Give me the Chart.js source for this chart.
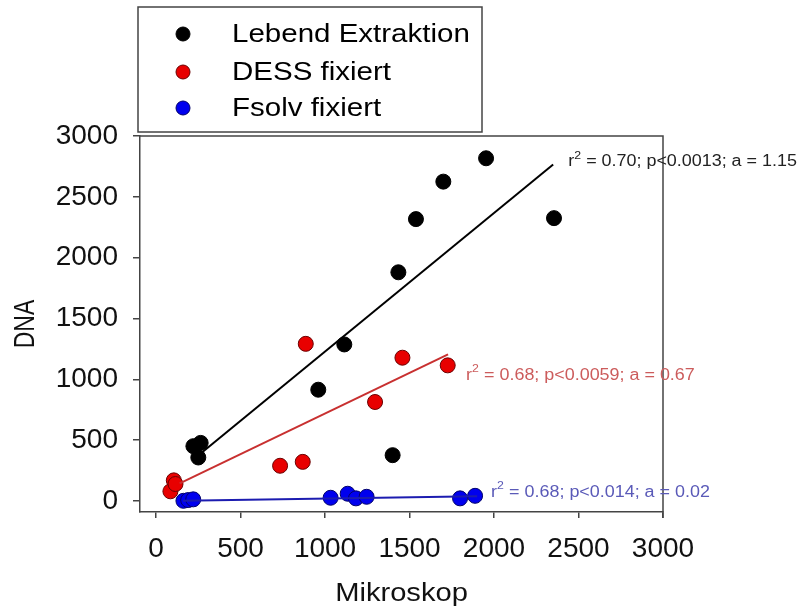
<!DOCTYPE html>
<html>
<head>
<meta charset="utf-8">
<script src="https://cdn.jsdelivr.net/npm/chart.js@4.4.1/dist/chart.umd.min.js"></script>
<style>
  html, body { margin: 0; padding: 0; background: #fff; }
</style>
</head>
<body>
<canvas id="GraficoDNA" width="798" height="614"></canvas>
<script>
// Werte
var lebendX = [221, 264, 250, 960, 1114, 1400, 1434, 1538, 1700, 1953, 2355];
var lebendY = [451, 478, 358, 915, 1287, 377, 1880, 2317, 2625, 2817, 2325];
var dessX = [85, 105, 115, 734, 868, 886, 1296, 1458, 1726];
var dessY = [80, 170, 140, 290, 322, 1292, 814, 1178, 1115];
var fsolvX = [162, 190, 220, 1033, 1134, 1183, 1246, 1799, 1888];
var fsolvY = [2, 8, 14, 27, 60, 22, 35, 22, 43];

// Regressionsgeraden: Anfang und Ende
var lebendFitX = [255, 2350];
var lebendFitY = [380, 2765];
var dessFitX = [140, 1728];
var dessFitY = [145, 1205];
var fsolvFitX = [160, 1900];
var fsolvFitY = [2, 40];

var serien = ['Lebend Extraktion', 'DESS fixiert', 'Fsolv fixiert'];
var statistik = ['= 0.70; p<0.0013; a = 1.15', '= 0.68; p<0.0059; a = 0.67', '= 0.68; p<0.014; a = 0.02'];
var xTicks = [0, 500, 1000, 1500, 2000, 2500, 3000];
var yTicks = [0, 500, 1000, 1500, 2000, 2500, 3000];

var fuellung = ['#000000', '#e80000', '#0000ee'];
var rand = ['#000000', '#6a0000', '#00006a'];
var linie = ['#000000', '#c83030', '#1c1cb0'];
var textFarbe = ['#222222', '#cc5c5c', '#5a5ab8'];

function Punkte(xs, ys) {
    return xs.map(function (x, i) { return { x: x, y: ys[i] }; });
}

function PunktSet(i, xs, ys) {
    return {
        label: serien[i],
        data: Punkte(xs, ys),
        backgroundColor: fuellung[i],
        borderColor: rand[i],
        borderWidth: 1,
        pointRadius: 7.5,
        pointHoverRadius: 7.5,
        showLine: false
    };
}

function LinienSet(i, xs, ys) {
    return {
        label: 'fit' + i,
        data: Punkte(xs, ys),
        borderColor: linie[i],
        borderWidth: 2,
        pointRadius: 0,
        showLine: true,
        fill: false
    };
}

function Text(ctx, txt, x, y, sx, align) {
    ctx.save();
    ctx.translate(x, y);
    ctx.scale(sx, 1);
    ctx.textAlign = align || 'left';
    ctx.fillText(txt, 0, 0);
    ctx.restore();
}

var zusatz = {
    id: 'zusatz',
    afterDraw: function (chart) {
        var ctx = chart.ctx;
        var a = chart.chartArea;
        var xs = chart.scales.x, ys = chart.scales.y;

        // Rahmen oben und rechts
        ctx.save();
        ctx.strokeStyle = '#444';
        ctx.lineWidth = 1.5;
        ctx.beginPath();
        ctx.moveTo(a.left, a.top);
        ctx.lineTo(a.right, a.top);
        ctx.lineTo(a.right, a.bottom + 6);
        ctx.stroke();

        // Legende
        ctx.strokeRect(138, 7, 344, 125);
        ctx.font = '25px "Liberation Sans", Arial, sans-serif';
        ctx.textBaseline = 'middle';
        var ly = [34, 72, 108];
        for (var i = 0; i < 3; i++) {
            ctx.beginPath();
            ctx.arc(183, ly[i], 7, 0, Math.PI * 2);
            ctx.fillStyle = fuellung[i];
            ctx.fill();
            ctx.strokeStyle = rand[i];
            ctx.lineWidth = 1;
            ctx.stroke();
            ctx.fillStyle = '#000';
            Text(ctx, serien[i], 232, ly[i] + 1, 1.18);
        }

        // Statistik an den Geraden
        var enden = [[lebendFitX[1], lebendFitY[1], 15, -3], [dessFitX[1], dessFitY[1], 18, 21], [fsolvFitX[1], fsolvFitY[1], 14, -4]];
        for (var j = 0; j < 3; j++) {
            var px = xs.getPixelForValue(enden[j][0]) + enden[j][2];
            var py = ys.getPixelForValue(enden[j][1]) + enden[j][3];
            ctx.fillStyle = textFarbe[j];
            ctx.textBaseline = 'middle';
            ctx.font = '16px "Liberation Sans", Arial, sans-serif';
            Text(ctx, 'r', px, py, 1.12);
            ctx.font = '11px "Liberation Sans", Arial, sans-serif';
            Text(ctx, '2', px + 6, py - 6, 1.12);
            ctx.font = '16px "Liberation Sans", Arial, sans-serif';
            Text(ctx, ' ' + statistik[j], px + 13, py, 1.12);
        }

        // Achsentitel
        ctx.fillStyle = '#111';
        ctx.font = '26px "Liberation Sans", Arial, sans-serif';
        ctx.textBaseline = 'middle';
        Text(ctx, 'Mikroskop', (a.left + a.right) / 2, a.bottom + 82, 1.12, 'center');
        ctx.save();
        ctx.translate(26, (a.top + a.bottom) / 2);
        ctx.rotate(-Math.PI / 2);
        ctx.scale(1, 1.25);
        ctx.font = '23px "Liberation Sans", Arial, sans-serif';
        ctx.textAlign = 'center';
        ctx.fillText('DNA', 0, 0);
        ctx.restore();
        ctx.restore();
    }
};

function Beschriftung(v) { return String(v); }

var ctx = document.getElementById('GraficoDNA').getContext('2d');

var grafico = new Chart(ctx, {
    type: 'scatter',
    data: {
        datasets: [
            LinienSet(0, lebendFitX, lebendFitY),
            LinienSet(1, dessFitX, dessFitY),
            LinienSet(2, fsolvFitX, fsolvFitY),
            PunktSet(0, lebendX, lebendY),
            PunktSet(1, dessX, dessY),
            PunktSet(2, fsolvX, fsolvY)
        ]
    },
    options: {
        responsive: false,
        animation: false,
        layout: { padding: { left: 0, right: 135, top: 136, bottom: 0 } },
        plugins: {
            legend: { display: false },
            tooltip: { enabled: false }
        },
        scales: {
            x: {
                type: 'linear',
                min: -95,
                max: 3000,
                afterFit: function (s) { s.height = 102; },
                afterBuildTicks: function (s) { s.ticks = xTicks.map(function (v) { return { value: v }; }); },
                grid: { drawOnChartArea: false, drawTicks: true, tickLength: 6, color: '#444', lineWidth: 1.5 },
                border: { display: true, color: '#444', width: 1.5 },
                ticks: {
                    color: '#111',
                    padding: 14,
                    maxRotation: 0,
                    callback: Beschriftung,
                    font: { family: '"Liberation Sans", Arial, sans-serif', size: 28 }
                }
            },
            y: {
                type: 'linear',
                min: -90,
                max: 3000,
                afterFit: function (s) { s.width = 140; },
                afterBuildTicks: function (s) { s.ticks = yTicks.map(function (v) { return { value: v }; }); },
                grid: { drawOnChartArea: false, drawTicks: true, tickLength: 7, color: '#444', lineWidth: 1.5 },
                border: { display: true, color: '#444', width: 1.5 },
                ticks: {
                    color: '#111',
                    padding: 15,
                    callback: Beschriftung,
                    font: { family: '"Liberation Sans", Arial, sans-serif', size: 28 }
                }
            }
        }
    },
    plugins: [zusatz]
});
</script>
</body>
</html>
